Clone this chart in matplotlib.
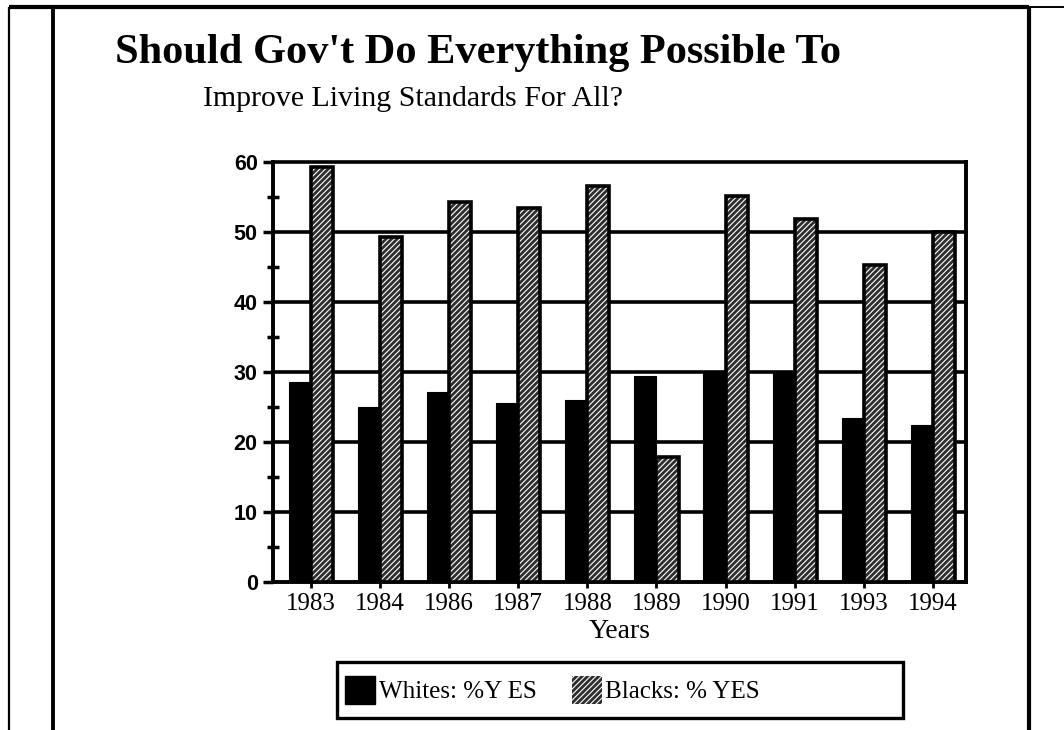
import matplotlib
matplotlib.use("Agg")
import matplotlib.pyplot as plt
from matplotlib.lines import Line2D
from matplotlib.patches import Patch, Rectangle
import numpy as np

years = ["1983", "1984", "1986", "1987", "1988", "1989", "1990", "1991", "1993", "1994"]
whites_yes = [28.6, 25.0, 27.1, 25.6, 26.0, 29.4, 30.2, 30.2, 23.4, 22.5]
blacks_yes = [59.3, 49.3, 54.3, 53.5, 56.6, 17.9, 55.1, 51.9, 45.3, 50.0]
y_ticks = [0, 10, 20, 30, 40, 50, 60]

title_line1 = "Should Gov't Do Everything Possible To"
title_line2 = "Improve Living Standards For All?"
x_label = "Years"
legend_labels = ["Whites: %Y ES", "Blacks: % YES"]

plt.rcParams["hatch.linewidth"] = 0.8

W, H = 1064, 730
fig = plt.figure(figsize=(W / 100, H / 100), dpi=100)
fig.patch.set_facecolor("white")

# page frame lines
def fline(x0, y0, x1, y1, lw):
    fig.add_artist(Line2D([x0 / W, x1 / W], [1 - y0 / H, 1 - y1 / H],
                          transform=fig.transFigure, color="black", lw=lw,
                          solid_capstyle="butt"))

fline(9, 7, 9, H, 1.6)
fline(53, 7, 53, H, 2.8)
fline(9, 7, 1029, 7, 3.0)
fline(1029, 7, W, 7, 1.4)
fline(1029, 7, 1029, H, 3.0)

# titles
serif = ["Liberation Serif", "DejaVu Serif"]
fig.text(115 / W, 1 - 63 / H, title_line1, family=serif, fontweight="bold",
         fontsize=30.5, ha="left", va="baseline")
fig.text(203 / W, 1 - 106 / H, title_line2, family=serif,
         fontsize=21.5, ha="left", va="baseline")

left, right, top, bottom = 273, 966, 162, 582
ax = fig.add_axes([left / W, 1 - bottom / H, (right - left) / W, (bottom - top) / H])

x = np.arange(len(years))
bw = 0.32
hatch_face = "#2e2e2e"
hatch_pat = "//////"

# gridlines behind the bars
for v in y_ticks[1:]:
    ax.axhline(v, color="black", lw=2.6, zorder=1, clip_on=False)

ax.bar(x - bw / 2, whites_yes, width=bw, color="black", edgecolor="black",
       lw=0.8, zorder=3)
ax.bar(x + bw / 2, blacks_yes, width=bw, color=hatch_face, edgecolor="white",
       hatch=hatch_pat, lw=0, zorder=3)
ax.bar(x + bw / 2, blacks_yes, width=bw, fill=False, edgecolor="black",
       lw=2.6, zorder=4)

ax.set_xlim(-0.55, 9.48)
ax.set_ylim(0, 60)
ax.set_yticks(y_ticks)
ax.set_yticks([5, 15, 25, 35, 45, 55], minor=True)
ax.set_xticks(x)
ax.set_xticklabels(years, family=serif, fontsize=18)
ax.set_yticklabels([str(v) for v in y_ticks], family=["Liberation Sans", "DejaVu Sans"],
                   fontweight="bold", fontsize=15.5)
ax.tick_params(axis="y", which="major", direction="out", length=7, width=2.5, pad=4)
ax.tick_params(axis="y", which="minor", direction="inout", length=8, width=2.5)
ax.tick_params(axis="x", direction="out", length=4, width=2, pad=4)

for s in ["left", "bottom", "right"]:
    ax.spines[s].set_linewidth(2.8)
ax.spines["top"].set_visible(False)

ax.set_xlabel(x_label, family=serif, fontsize=20, labelpad=3)

# legend box with its entries
fig.add_artist(Rectangle((337 / W, 1 - 718 / H), (903 - 337) / W, (718 - 662) / H,
                         transform=fig.transFigure, fill=False, edgecolor="black",
                         lw=2.4))
handles = [Patch(facecolor="black", edgecolor="black"),
           Patch(facecolor=hatch_face, edgecolor="white", hatch=hatch_pat, lw=0)]
leg = fig.legend(handles, legend_labels, loc="center left",
                 bbox_to_anchor=(340 / W, 1 - 690 / H), ncol=2,
                 prop={"family": serif, "size": 18}, frameon=False,
                 handlelength=1.2, handleheight=1.4, handletextpad=0.15,
                 columnspacing=1.4, borderpad=0.2, borderaxespad=0)

fig.savefig("out.png", dpi=100, facecolor="white")
